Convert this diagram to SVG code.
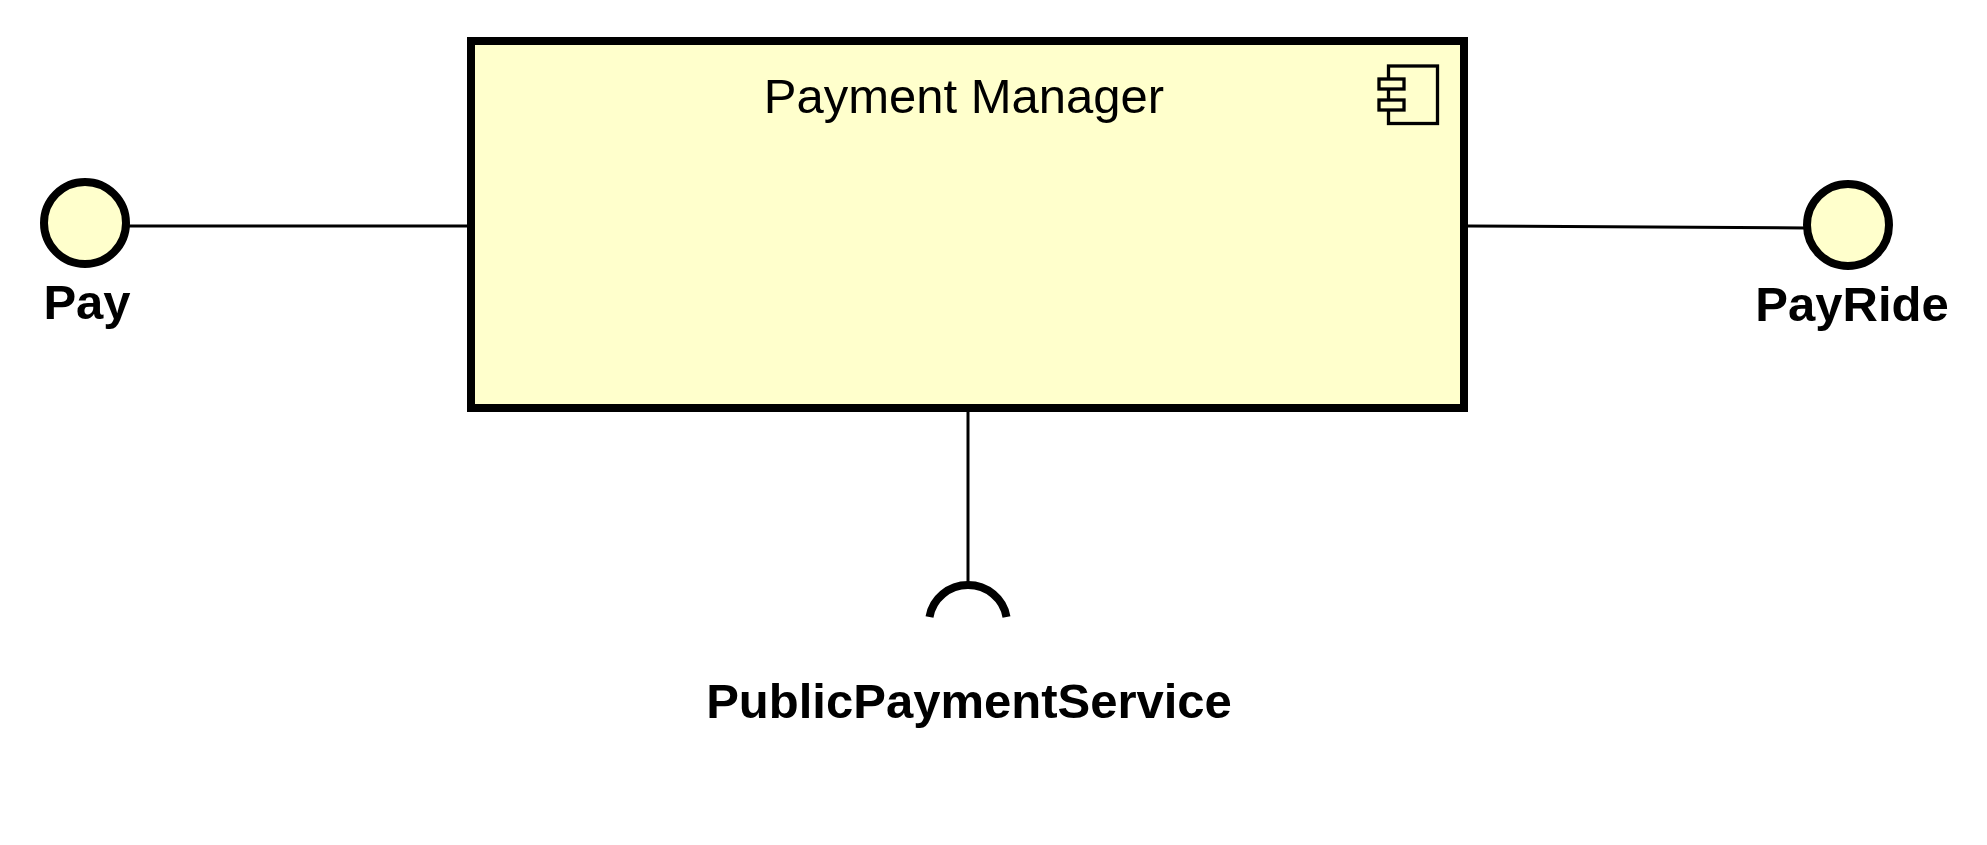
<svg xmlns="http://www.w3.org/2000/svg" width="1987" height="845" viewBox="0 0 1987 845">
<style>
.lbl{font-family:"Liberation Sans",Arial,sans-serif;font-weight:bold;font-size:49px;fill:#000;text-anchor:middle}
.ttl{font-family:"Liberation Sans",Arial,sans-serif;font-size:49px;fill:#000;text-anchor:middle}
.iface{fill:#FFFFCC;stroke:#000;stroke-width:8}
.conn{stroke:#000;stroke-width:3;fill:none}
</style>
<rect width="1987" height="845" fill="#fff"/>
<g id="connectors">
<line class="conn" x1="126" y1="226" x2="468" y2="226"/>
<line class="conn" x1="1467" y1="226" x2="1806" y2="228"/>
<line class="conn" x1="968" y1="412" x2="968" y2="582"/>
</g>
<g id="payment-manager">
<rect x="471" y="41" width="993" height="367" fill="#FFFFCC" stroke="#000" stroke-width="8"/>
<text class="ttl" x="964" y="113">Payment Manager</text>
<g fill="#FFFFCC" stroke="#000" stroke-width="3.3">
<rect x="1388.5" y="66" width="49" height="57.5"/>
<rect x="1379" y="79" width="25" height="10"/>
<rect x="1379" y="100" width="25" height="10"/>
</g>
</g>
<g id="pay">
<circle class="iface" cx="85" cy="223" r="41"/>
<text class="lbl" x="87" y="319">Pay</text>
</g>
<g id="payride">
<circle class="iface" cx="1848" cy="225" r="41"/>
<text class="lbl" x="1852" y="321">PayRide</text>
</g>
<g id="public-payment-service">
<path d="M 929.5 617 A 39 38 0 0 1 1006.5 617" fill="none" stroke="#000" stroke-width="8"/>
<text class="lbl" x="969" y="718">PublicPaymentService</text>
</g>
</svg>
